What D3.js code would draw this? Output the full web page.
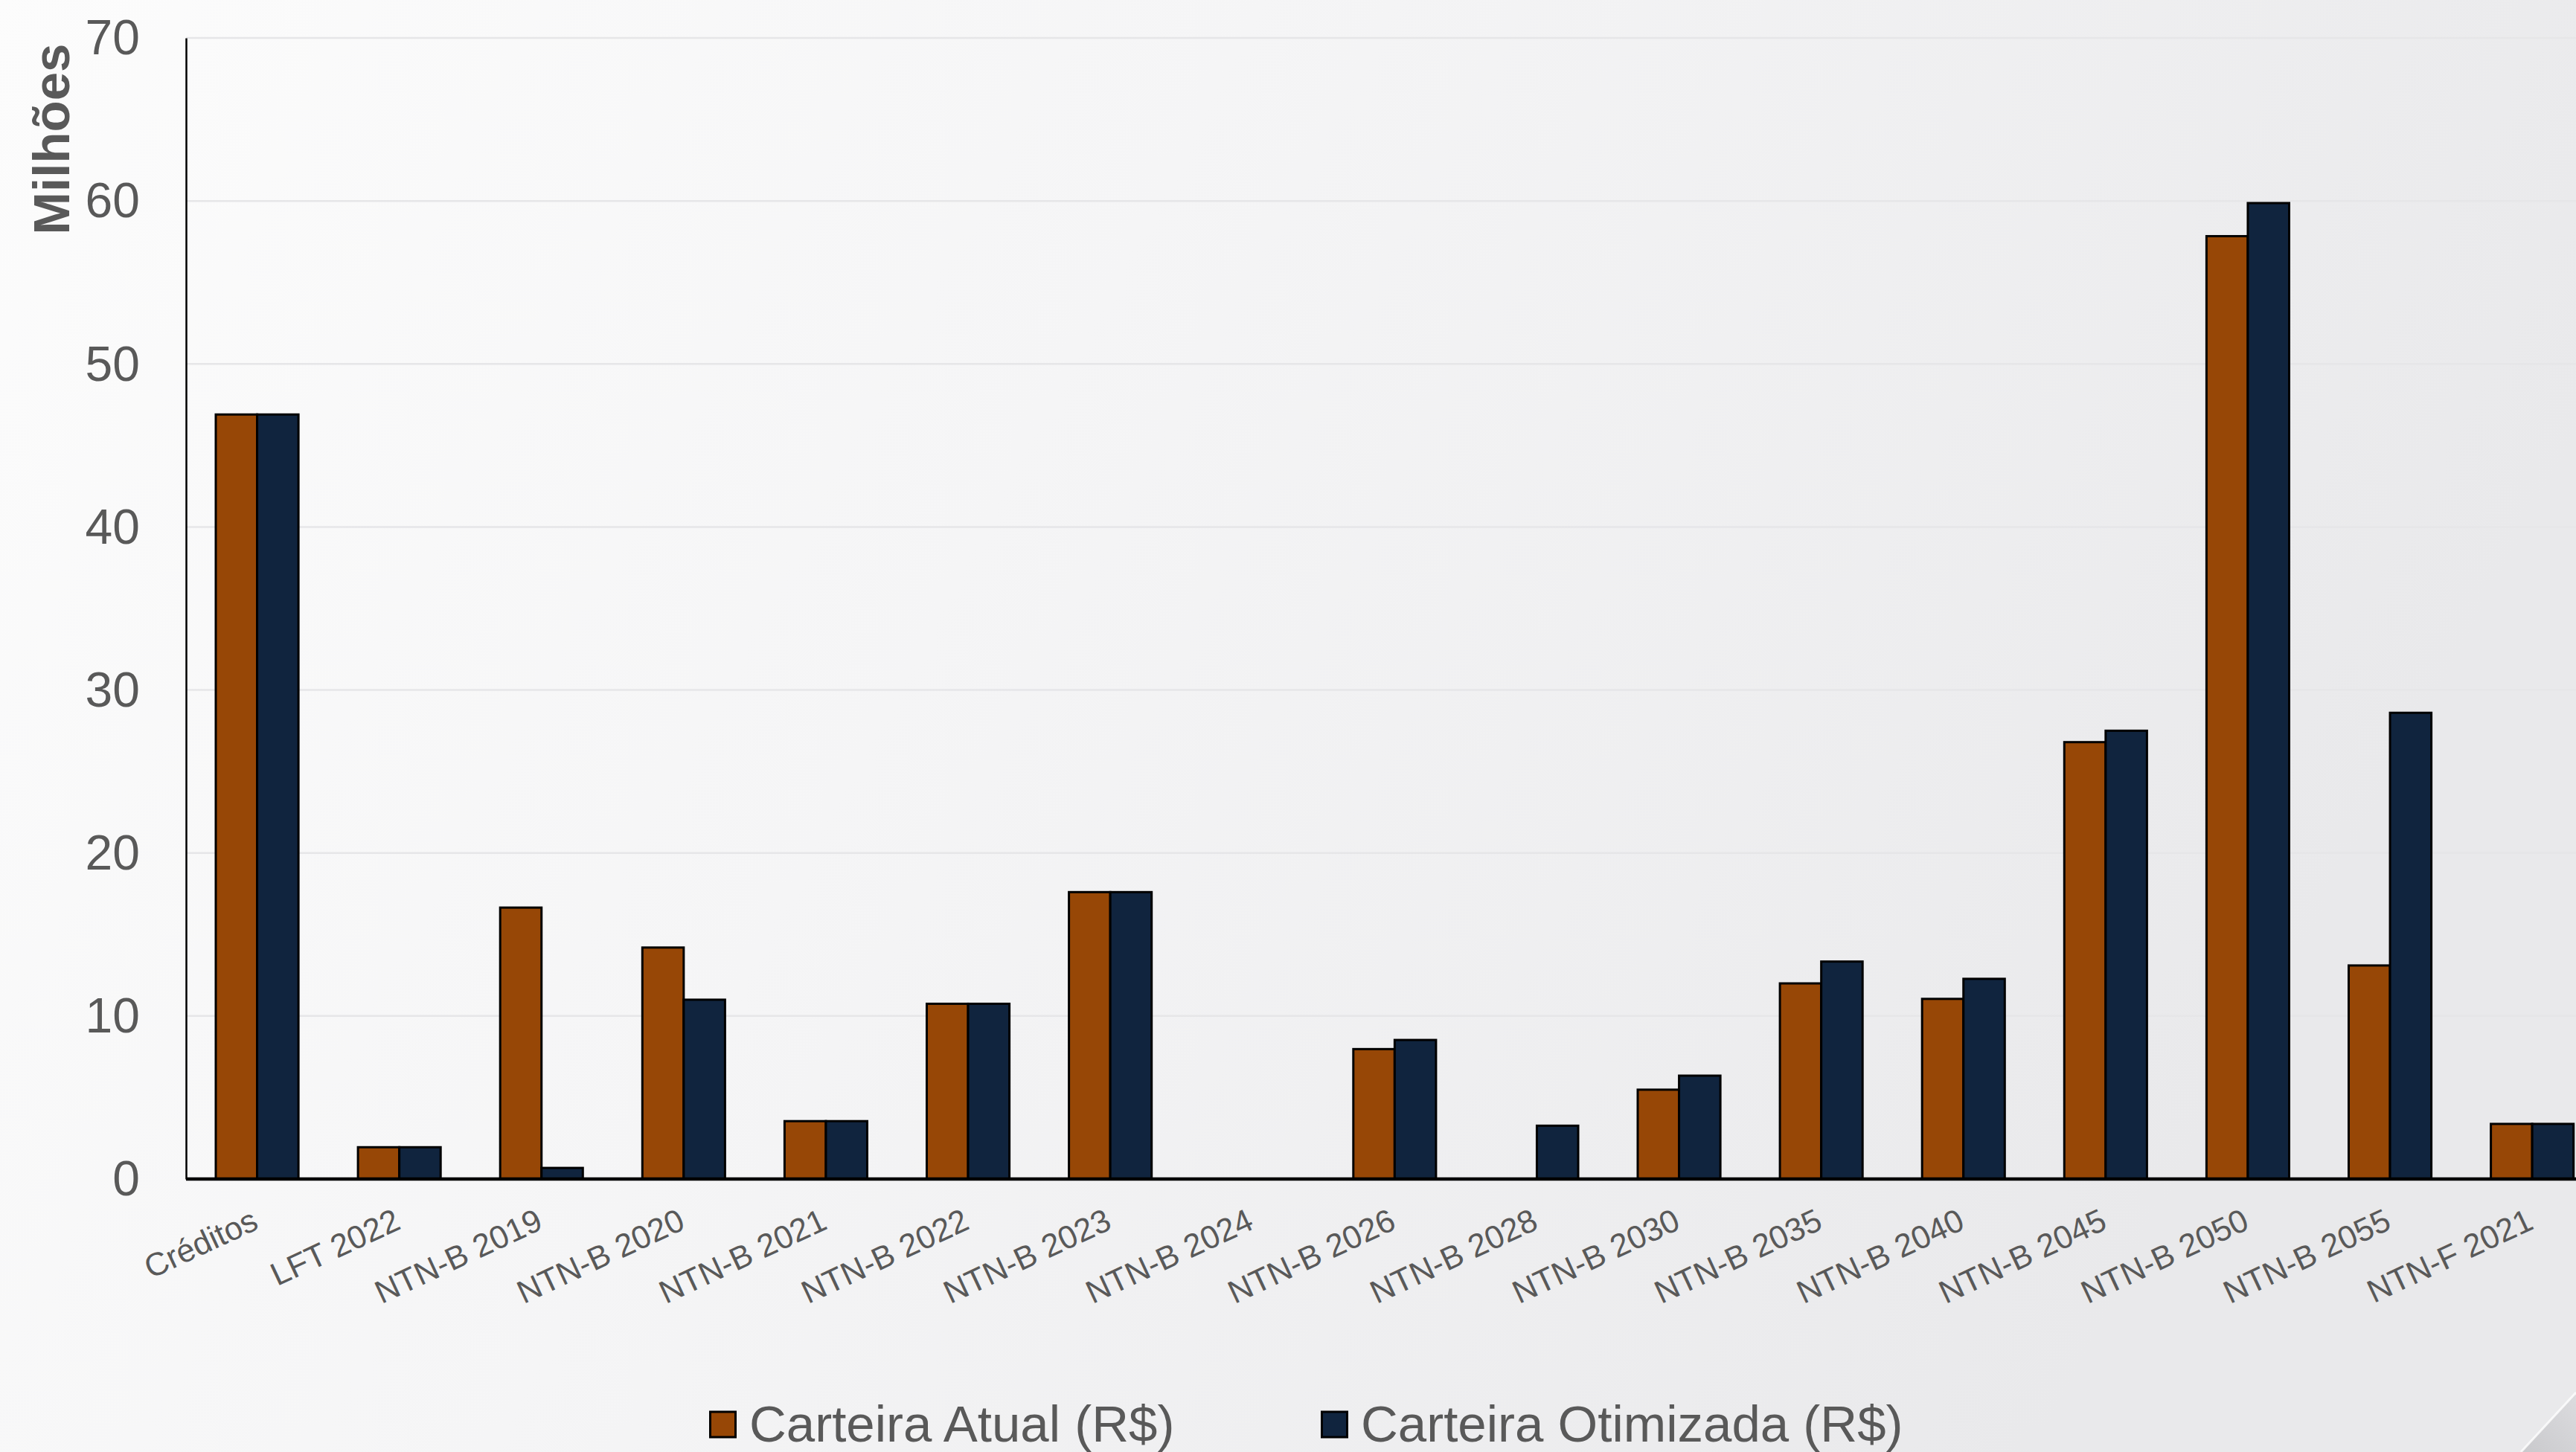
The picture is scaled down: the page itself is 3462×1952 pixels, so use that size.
<!DOCTYPE html>
<html>
<head>
<meta charset="utf-8">
<script src="https://cdn.jsdelivr.net/npm/d3@7/dist/d3.min.js"></script>
<style>
  html, body { margin: 0; padding: 0; overflow: hidden; }
  body { width: 3462px; height: 1952px; }
  svg { display: block; font-family: "Liberation Sans", Arial, sans-serif; }
</style>
</head>
<body>
<svg id="chart" width="3462" height="1952"></svg>
<script>
// Portfolio composition by security (values in R$ millions)
const categories = [
  "Créditos", "LFT 2022", "NTN-B 2019", "NTN-B 2020", "NTN-B 2021",
  "NTN-B 2022", "NTN-B 2023", "NTN-B 2024", "NTN-B 2026", "NTN-B 2028",
  "NTN-B 2030", "NTN-B 2035", "NTN-B 2040", "NTN-B 2045", "NTN-B 2050",
  "NTN-B 2055", "NTN-F 2021"
];
const seriesNames = ["Carteira Atual (R$)", "Carteira Otimizada (R$)"];
const carteiraAtual = [46.9, 1.95, 16.65, 14.2, 3.55, 10.75, 17.6, 0, 7.97, 0, 5.48, 12.0, 11.05, 26.8, 57.84, 13.1, 3.38];
const carteiraOtimizada = [46.9, 1.95, 0.68, 11.0, 3.55, 10.75, 17.6, 0, 8.53, 3.27, 6.34, 13.34, 12.28, 27.5, 59.87, 28.6, 3.38];
const yTicks = [0, 10, 20, 30, 40, 50, 60, 70];
const axisTitle = "Milhões";

const seriesValues = [carteiraAtual, carteiraOtimizada];
const seriesColors = ["#974706", "#10243e"];

const svg = d3.select("#chart");
const W = 3462, H = 1952;

// Slide-style background: soft horizontal gray gradient
const defs = svg.append("defs");
const bg = defs.append("linearGradient").attr("id", "bg")
  .attr("x1", "0%").attr("y1", "0%").attr("x2", "100%").attr("y2", "30%");
bg.append("stop").attr("offset", "0%").attr("stop-color", "#fcfcfc");
bg.append("stop").attr("offset", "45%").attr("stop-color", "#f5f5f6");
bg.append("stop").attr("offset", "100%").attr("stop-color", "#e9e9eb");
svg.append("rect").attr("width", W).attr("height", H).attr("fill", "url(#bg)");

const curl = defs.append("linearGradient").attr("id", "curl")
  .attr("x1", "0%").attr("y1", "100%").attr("x2", "100%").attr("y2", "0%");
curl.append("stop").attr("offset", "0%").attr("stop-color", "#c9c9cc");
curl.append("stop").attr("offset", "100%").attr("stop-color", "#dcdcdf");

const plot = { left: 250, top: 51, bottom: 1585, step: 191.1 };
plot.right = plot.left + plot.step * categories.length;

const x0 = d3.scaleBand().domain(categories).range([plot.left, plot.right]).padding(0);
const x1 = d3.scaleBand().domain(seriesNames).range([0, x0.bandwidth()])
  .paddingInner(0).paddingOuter(0.72);
const y = d3.scaleLinear().domain([0, 70]).range([plot.bottom, plot.top]);

// Horizontal gridlines
svg.append("g")
  .selectAll("line").data(yTicks.filter(d => d > 0)).join("line")
  .attr("x1", plot.left).attr("x2", W)
  .attr("y1", d => y(d)).attr("y2", d => y(d))
  .attr("stroke", "#e6e6e8").attr("stroke-width", 2.5);

// Y axis with large tick labels
const yAxis = d3.axisLeft(y).tickValues(yTicks).tickSize(0).tickPadding(62);
const gy = svg.append("g").attr("transform", `translate(${plot.left},0)`).call(yAxis);
gy.select(".domain").attr("stroke", "#000").attr("stroke-width", 2.5);
gy.selectAll("text")
  .attr("font-size", 66).attr("fill", "#595959")
  .attr("font-family", "'Liberation Sans', Arial, sans-serif")
  .attr("dy", "0.33em");

// Axis title
svg.append("text")
  .attr("transform", "translate(93,187) rotate(-90)")
  .attr("text-anchor", "middle")
  .attr("font-size", 69).attr("font-weight", "bold").attr("fill", "#595959")
  .text(axisTitle);

// Bars
const groups = svg.append("g").selectAll("g").data(categories).join("g")
  .attr("transform", d => `translate(${x0(d)},0)`);
groups.selectAll("rect")
  .data((d, i) => seriesNames.map((s, k) => ({ s, k, v: seriesValues[k][i] })).filter(e => e.v > 0))
  .join("rect")
  .attr("x", e => x1(e.s))
  .attr("width", x1.bandwidth())
  .attr("y", e => y(e.v))
  .attr("height", e => y(0) - y(e.v))
  .attr("fill", e => seriesColors[e.k])
  .attr("stroke", "#000").attr("stroke-width", 3);

// X axis baseline and rotated category labels
const xAxis = d3.axisBottom(x0).tickSize(0).tickPadding(0);
const gx = svg.append("g").attr("transform", `translate(0,${plot.bottom})`).call(xAxis);
gx.select(".domain").attr("d", `M${plot.left},0H${W}`).attr("stroke", "#000").attr("stroke-width", 4.5);
gx.selectAll(".tick text")
  .attr("font-size", 43.5).attr("fill", "#595959")
  .attr("font-family", "'Liberation Sans', Arial, sans-serif")
  .attr("text-anchor", "end")
  .attr("dy", null).attr("y", 0)
  .attr("transform", "translate(4,66) rotate(-25)");

// Legend
const legend = svg.append("g");
const legendPos = [953, 1775];
seriesNames.forEach((s, k) => {
  const g = legend.append("g").attr("transform", `translate(${legendPos[k]},0)`);
  g.append("rect").attr("x", 1.5).attr("y", 1898).attr("width", 34).attr("height", 34)
    .attr("fill", seriesColors[k]).attr("stroke", "#000").attr("stroke-width", 3);
  g.append("text").attr("x", 54).attr("y", 1938)
    .attr("font-size", 69).attr("fill", "#595959").text(s);
});

// Page-corner fold in the lower right
svg.append("path")
  .attr("d", `M${W},1872 L${W},${H} L3388,${H} Z`)
  .attr("fill", "url(#curl)");
svg.append("path")
  .attr("d", `M${W},1872 L3388,${H}`)
  .attr("stroke", "#ffffff").attr("stroke-width", 3).attr("opacity", 0.8);
</script>
</body>
</html>
